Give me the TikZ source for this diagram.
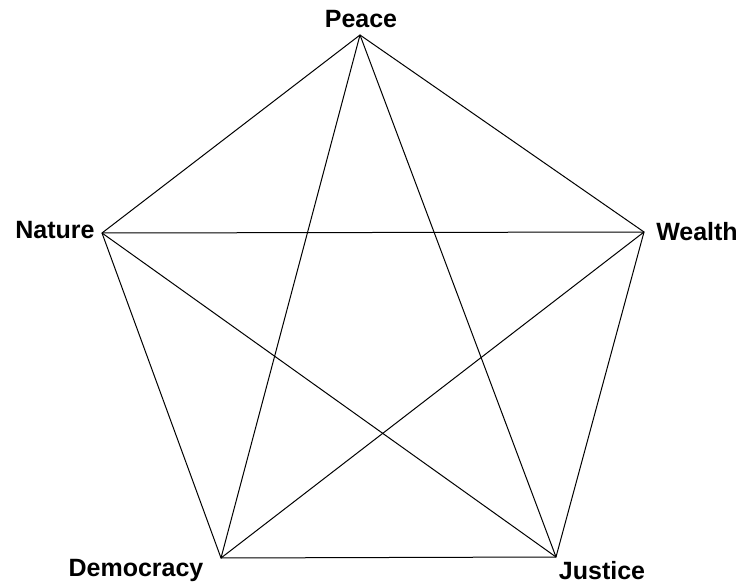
\documentclass[tikz,border=0pt]{standalone}
\usepackage{fontspec}
\setmainfont{Liberation Sans}
\usepackage{tikz}
\usetikzlibrary{positioning}

\begin{document}
\begin{tikzpicture}[
    x=1pt, y=-1pt,
    lbl/.style={font=\fontsize{25}{30}\selectfont\bfseries, inner sep=0pt, anchor=base},
    edge/.style={draw=black, line width=1pt, line join=miter}
]
    \useasboundingbox (0,0) rectangle (753,588);

    % Vertices
    \coordinate (peace) at (360,35);
    \coordinate (nature) at (102,233);
    \coordinate (wealth) at (644,232);
    \coordinate (democracy) at (221,558);
    \coordinate (justice) at (556,557);

    % Labels
    \node[lbl] (peacelbl) at (361,28) {Peace};
    \node[lbl] (naturelbl) at (55,239) {Nature};
    \node[lbl] (wealthlbl) at (697,241) {Wealth};
    \node[lbl] (democracylbl) at (136,576) {Democracy};
    \node[lbl] (justicelbl) at (602,579) {Justice};

    % Pentagon sides
    \draw[edge] (peace) -- (nature) -- (democracy) -- (justice) -- (wealth) -- cycle;

    % Star diagonals
    \draw[edge] (peace) -- (democracy);
    \draw[edge] (peace) -- (justice);
    \draw[edge] (nature) -- (wealth);
    \draw[edge] (nature) -- (justice);
    \draw[edge] (wealth) -- (democracy);

\end{tikzpicture}
\end{document}
